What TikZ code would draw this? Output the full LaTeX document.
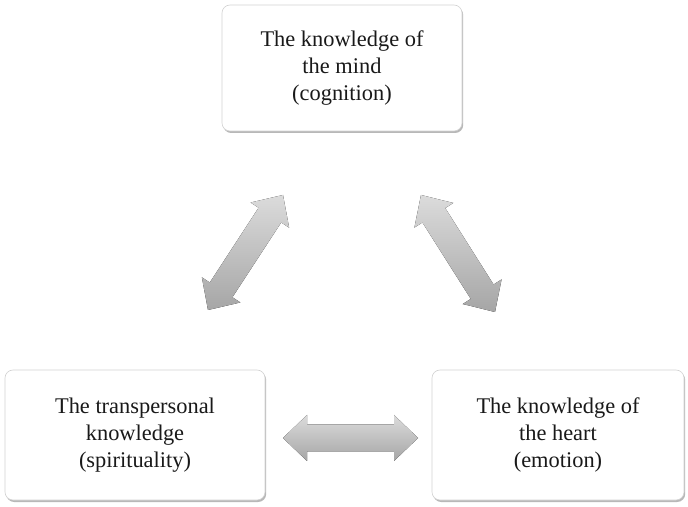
\documentclass[tikz,border=0pt]{standalone}
\usepackage{fontspec}
\setmainfont{Liberation Serif}
\usetikzlibrary{shadows,calc}
% a wide two-headed arrow from #2 to #3; #1 prefixes helper coordinates
\newcommand\fatlink[3]{%
  \coordinate (#1a) at ($(#2)!24pt!(#3)$);
  \coordinate (#1b) at ($(#3)!24pt!(#2)$);
  \fill[fatarrow] (#2) -- ($(#1a)!23pt!90:(#3)$) -- ($(#1a)!13.5pt!90:(#3)$)
    -- ($(#1b)!13.5pt!-90:(#2)$) -- ($(#1b)!23pt!-90:(#2)$) -- (#3)
    -- ($(#1b)!23pt!90:(#2)$) -- ($(#1b)!13.5pt!90:(#2)$)
    -- ($(#1a)!13.5pt!-90:(#3)$) -- ($(#1a)!23pt!-90:(#3)$) -- cycle;}
\begin{document}
\begin{tikzpicture}[x=1pt,y=1pt,
  box/.style={draw=gray!35, line width=0.6pt, fill=white, rounded corners=8pt,
    align=center, font=\fontsize{22.4}{27}\selectfont, text=black!90,
    drop shadow={shadow xshift=1.2pt, shadow yshift=-2pt, fill=gray!70, opacity=0.8}},
  fatarrow/.style={top color=gray!28, bottom color=gray!70}
]
  \useasboundingbox (0,0) rectangle (688,506);

  % the three kinds of knowledge
  \node[box, minimum width=240pt, minimum height=126pt] (mind) at (342,438)
    {The knowledge of\\the mind\\(cognition)};
  \node[box, minimum width=260pt, minimum height=130pt] (spirit) at (135,71)
    {The transpersonal\\knowledge\\(spirituality)};
  \node[box, minimum width=252pt, minimum height=130pt] (heart) at (558,71)
    {The knowledge of\\the heart\\(emotion)};

  % arrow tips of the two-way links
  \coordinate (msA) at (283,311);
  \coordinate (msB) at (208,196);
  \coordinate (mhA) at (421,311);
  \coordinate (mhB) at (495,194);
  \coordinate (shA) at (283,68);
  \coordinate (shB) at (418,68);

  % two-way links between them
  \fatlink{ms}{msA}{msB}
  \fatlink{mh}{mhA}{mhB}
  \fatlink{sh}{shA}{shB}
\end{tikzpicture}
\end{document}
